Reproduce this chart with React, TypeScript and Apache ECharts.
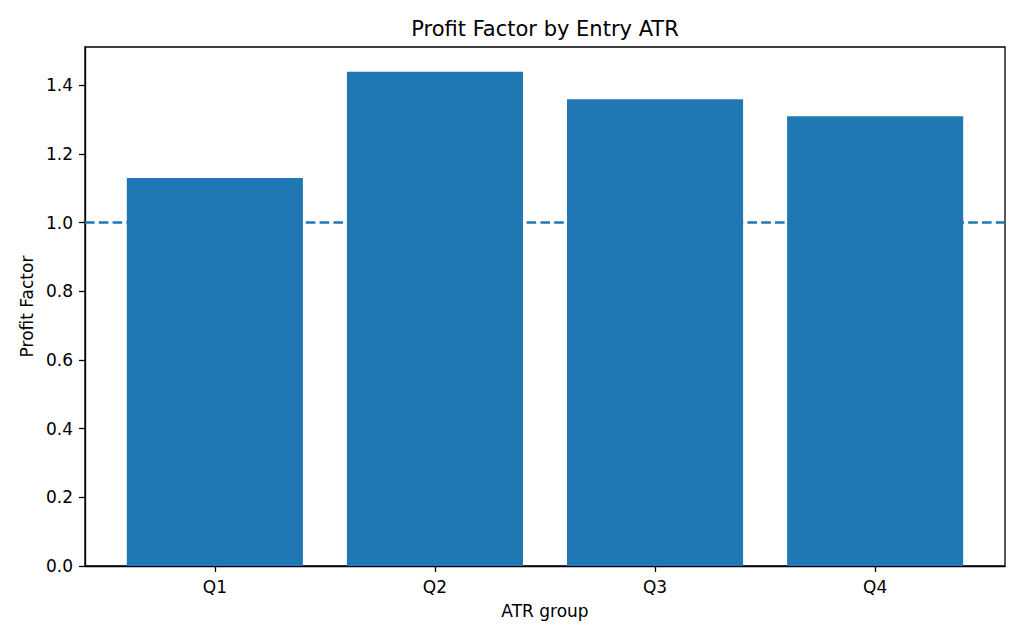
import React, { useEffect, useRef } from "react";
import * as echarts from "echarts";

const categories = ["Q1", "Q2", "Q3", "Q4"];
const profitFactor = [1.13, 1.44, 1.36, 1.31];
const yTicks = [0, 0.2, 0.4, 0.6, 0.8, 1.0, 1.2, 1.4];
const breakEven = 1.0;

export default function App() {
  const ref = useRef<HTMLDivElement>(null);
  useEffect(() => {
    if (!ref.current) return;
    const chart = echarts.init(ref.current, null, { renderer: "svg" });
    const font = "DejaVu Sans";
    const gridLeft = 85;
    const gridRight = 19;
    const plotW = 1024 - gridLeft - gridRight;
    const xMin = -0.59;
    const xMax = 3.59;
    const barPx = (0.8 / (xMax - xMin)) * plotW;
    const yMax = Math.max(...profitFactor) * 1.05;
    chart.setOption({
      animation: false,
      backgroundColor: "#ffffff",
      title: {
        text: "Profit Factor by Entry ATR",
        left: gridLeft + plotW / 2 - 5,
        textAlign: "center",
        top: 13,
        textStyle: { fontFamily: font, fontSize: 21, fontWeight: "normal", color: "#000" },
      },
      grid: {
        left: gridLeft,
        right: gridRight,
        top: 47,
        bottom: 74,
        show: true,
        borderColor: "#000",
        borderWidth: 1.3,
        containLabel: false,
      },
      xAxis: {
        type: "value",
        min: xMin,
        max: xMax,
        name: "ATR group",
        nameLocation: "middle",
        nameGap: 36,
        nameTextStyle: { fontFamily: font, fontSize: 17, color: "#000" },
        axisLine: { show: true, onZero: false, lineStyle: { color: "#000", width: 1.3 } },
        axisTick: { show: true, length: 6, lineStyle: { color: "#000", width: 1.3 }, customValues: [0, 1, 2, 3] },
        axisLabel: {
          customValues: [0, 1, 2, 3],
          formatter: (v: number) => categories[Math.round(v)] ?? "",
          fontFamily: font,
          fontSize: 17,
          color: "#000",
          margin: 12,
        },
        splitLine: { show: false },
      },
      yAxis: {
        type: "value",
        min: 0,
        max: yMax,
        name: "Profit Factor",
        nameLocation: "middle",
        nameGap: 50,
        nameTextStyle: { fontFamily: font, fontSize: 17, color: "#000" },
        axisLine: { show: true, onZero: false, lineStyle: { color: "#000", width: 1.3 } },
        axisTick: { show: true, length: 6, lineStyle: { color: "#000", width: 1.3 }, customValues: yTicks },
        axisLabel: {
          customValues: yTicks,
          formatter: (v: number) => v.toFixed(1),
          fontFamily: font,
          fontSize: 17,
          color: "#000",
          margin: 12,
        },
        splitLine: { show: false },
      },
      series: [
        {
          type: "line",
          data: [],
          z: 1,
          markLine: {
            silent: true,
            symbol: "none",
            label: { show: false },
            lineStyle: { color: "#1f77b4", type: [9.6, 4.2], width: 2.6 },
            data: [{ yAxis: breakEven }],
            z: 1,
          },
        },
        {
          type: "bar",
          z: 3,
          barWidth: barPx,
          itemStyle: { color: "#1f77b4" },
          data: profitFactor.map((v, i) => [i, v]),
        },
      ],
    });
    return () => chart.dispose();
  }, []);
  return (
    <div
      ref={ref}
      style={{ position: "fixed", left: 0, top: 0, width: 1024, height: 640 }}
    />
  );
}
